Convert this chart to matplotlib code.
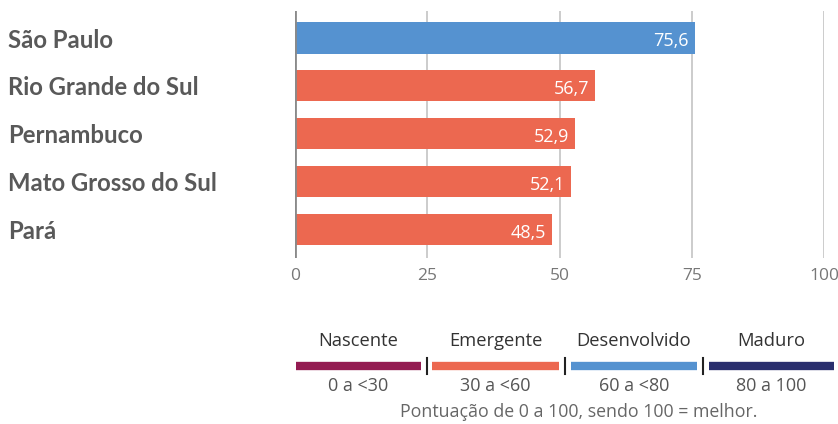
import matplotlib
matplotlib.use("Agg")
import matplotlib.pyplot as plt

states = ["São Paulo", "Rio Grande do Sul", "Pernambuco", "Mato Grosso do Sul", "Pará"]
scores = [75.6, 56.7, 52.9, 52.1, 48.5]
score_labels = ["75,6", "56,7", "52,9", "52,1", "48,5"]
xticks = [0, 25, 50, 75, 100]

levels = ["Nascente", "Emergente", "Desenvolvido", "Maduro"]
ranges = ["0 a <30", "30 a <60", "60 a <80", "80 a 100"]
level_bounds = [0, 30, 60, 80]
level_colors = ["#941c52", "#ec6850", "#5592d0", "#2a2f6e"]
footnote = "Pontuação de 0 a 100, sendo 100 = melhor."

W, H = 838, 424
fig = plt.figure(figsize=(W / 100, H / 100), dpi=100)

def color_for(v):
    c = level_colors[0]
    for b, col in zip(level_bounds, level_colors):
        if v >= b:
            c = col
    return c

# main bar axes (pixel placement)
left, right, top, bottom = 295, 824, 11, 258
ax = fig.add_axes([left / W, 1 - bottom / H, (right - left) / W, (bottom - top) / H])
pos = list(range(len(states)))
ax.barh(pos, scores, height=0.65, color=[color_for(v) for v in scores], zorder=3)
ax.set_xlim(0, 100)
ax.set_ylim(4.595, -0.564)
for x in xticks[1:]:
    ax.axvline(x, color="#c8c8c8", lw=1.3, zorder=1)
ax.axvline(0, color="#8a8a8a", lw=2, zorder=4)
for s in ax.spines.values():
    s.set_visible(False)
ax.set_yticks([])
ax.set_xticks(xticks)
ax.set_xticklabels([str(t) for t in xticks], fontfamily="Open Sans", fontsize=12.5, color="#777777")
ax.tick_params(axis="x", length=0, pad=7)

for p, v, lab in zip(pos, scores, score_labels):
    ax.text(v - 1.1, p + 0.07, lab, ha="right", va="center", color="white",
            fontfamily="Open Sans", fontsize=13, zorder=5)
    fig.text(8 / W, 1 - (40 + p * 47.9) / H, states[p], ha="left", va="center",
             fontfamily="Lato", fontweight="bold", fontsize=17.2, color="#595959")

# legend
lax = fig.add_axes([0, 0, 1, 1])
lax.set_xlim(0, W)
lax.set_ylim(H, 0)
lax.axis("off")
segs = [(296, 421), (432, 559), (571, 697), (709, 834)]
for (x0, x1), name, rng, col in zip(segs, levels, ranges, level_colors):
    lax.plot([x0, x1], [366, 366], color=col, lw=6, solid_capstyle="butt")
    cx = (x0 + x1) / 2
    lax.text(cx, 341, name, ha="center", va="center", fontfamily="Open Sans",
             fontsize=13.2, color="#333333")
    lax.text(cx, 386, rng, ha="center", va="center", fontfamily="Open Sans",
             fontsize=13, color="#555555")
for sx in [427, 565, 703]:
    lax.plot([sx, sx], [358, 374], color="#222222", lw=1.5)
lax.text(579, 412, footnote, ha="center", va="center", fontfamily="Open Sans",
         fontsize=12.8, color="#666666")

fig.savefig("out.png", dpi=100, facecolor="white")
